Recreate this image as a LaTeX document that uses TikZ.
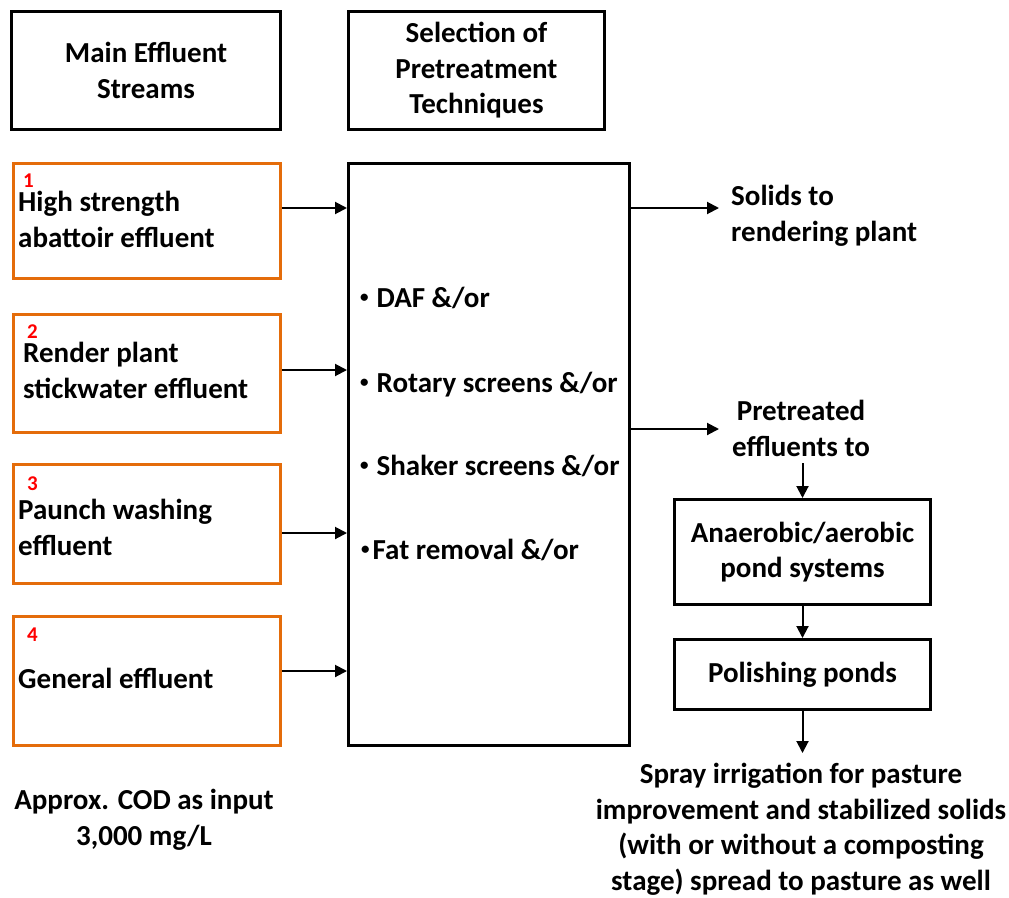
\documentclass[tikz,border=0pt]{standalone}
\usepackage{fontspec}
\setmainfont{Carlito}
\usetikzlibrary{arrows.meta,calc}
\definecolor{streamorange}{HTML}{E46C0A}
\definecolor{numred}{HTML}{FF0000}
\newcommand\listdot{\raisebox{4.5pt}{\fontsize{17}{17}\selectfont•}}
\begin{document}
\begin{tikzpicture}[x=1pt,y=-1pt,
  every node/.style={font=\fontsize{29}{35.5}\selectfont\bfseries, inner sep=0pt},
  blackbox/.style={draw=black, line width=3pt, anchor=north west},
  streambox/.style={draw=streamorange, line width=3pt, anchor=north west},
  label/.style={align=left, anchor=base west},
  ctext/.style={align=center},
  num/.style={text=numred, font=\fontsize{21}{24}\selectfont\bfseries, anchor=base west},
  arr/.style={line width=2pt, -{Triangle[length=12pt,width=12pt]}}
]
\useasboundingbox (0,0) rectangle (1009,897);

% column headings
\node[blackbox, minimum width=269pt, minimum height=118pt] (h1) at (10,10) {};
\node[ctext] (h1t) at (h1.center) {Main Effluent\\Streams};
\node[blackbox, minimum width=256pt, minimum height=118pt] (h2) at (347,10) {};
\node[ctext] (h2t) at (h2.center) {Selection of\\Pretreatment\\Techniques};

% effluent streams
\node[streambox, minimum width=267pt, minimum height=115pt] (s1) at (12,162) {};
\node[streambox, minimum width=267pt, minimum height=118pt] (s2) at (12,313) {};
\node[streambox, minimum width=267pt, minimum height=119pt] (s3) at (12,463) {};
\node[streambox, minimum width=267pt, minimum height=129pt] (s4) at (12,615) {};

% multi-line labels are placed by the baseline of their last line
\node[num] (n1) at (23,187) {1};
\node[label] (t1) at (18,247) {High strength\\abattoir effluent};
\node[num] (n2) at (27,338) {2};
\node[label] (t2) at (23,398) {Render plant\\stickwater effluent};
\node[num] (n3) at (27,490) {3};
\node[label] (t3) at (18,555) {Paunch washing\\effluent};
\node[num] (n4) at (27,641) {4};
\node[label] (t4) at (18,688) {General effluent};

% pretreatment techniques
\node[blackbox, minimum width=281pt, minimum height=582pt] (pre) at (347,162) {};
\node[label] (p1) at (360,307) {\listdot\hspace{8pt}DAF \&/or};
\node[label] (p2) at (360,392) {\listdot\hspace{8pt}Rotary screens \&/or};
\node[label] (p3) at (360,475) {\listdot\hspace{8pt}Shaker screens \&/or};
\node[label] (p4) at (361,559) {\listdot\hspace{3pt}Fat removal \&/or};

\draw[arr] (s1.east |- 0,208) -- (pre.west |- 0,208);
\draw[arr] (s2.east |- 0,370) -- (pre.west |- 0,370);
\draw[arr] (s3.east |- 0,533) -- (pre.west |- 0,533);
\draw[arr] (s4.east |- 0,671) -- (pre.west |- 0,671);

% outputs
\node[label] (sol) at (731,241) {Solids to\\rendering plant};
\draw[arr] (pre.east |- 0,208) -- (719,208) coordinate (solin);

\node[ctext, anchor=base] (ptr) at (801,456) {Pretreated\\effluents to};
\draw[arr] (pre.east |- 0,429) -- (719,429) coordinate (ptrin);

\node[blackbox, minimum width=256pt, minimum height=105pt] (ana) at (673,498) {};
\node[ctext] (anat) at (ana.center) {Anaerobic/aerobic\\pond systems};
\node[blackbox, minimum width=256pt, minimum height=70pt] (pol) at (673,638) {};
\node[ctext] (polt) at (pol.center) {Polishing ponds};

\node[ctext, anchor=base] (spr) at (801,890) {Spray irrigation for pasture\\improvement and stabilized solids\\(with or without a composting\\stage) spread to pasture as well};

\draw[arr] (ana.north |- 0,463) -- (ana.north);
\draw[arr] (ana.south) -- (pol.north);
\draw[arr] (pol.south) -- (pol.south |- 0,753);

% input strength note
\node[ctext, anchor=base] (cod) at (144,845) {Approx. COD as input\\3,000 mg/L};
\end{tikzpicture}
\end{document}
